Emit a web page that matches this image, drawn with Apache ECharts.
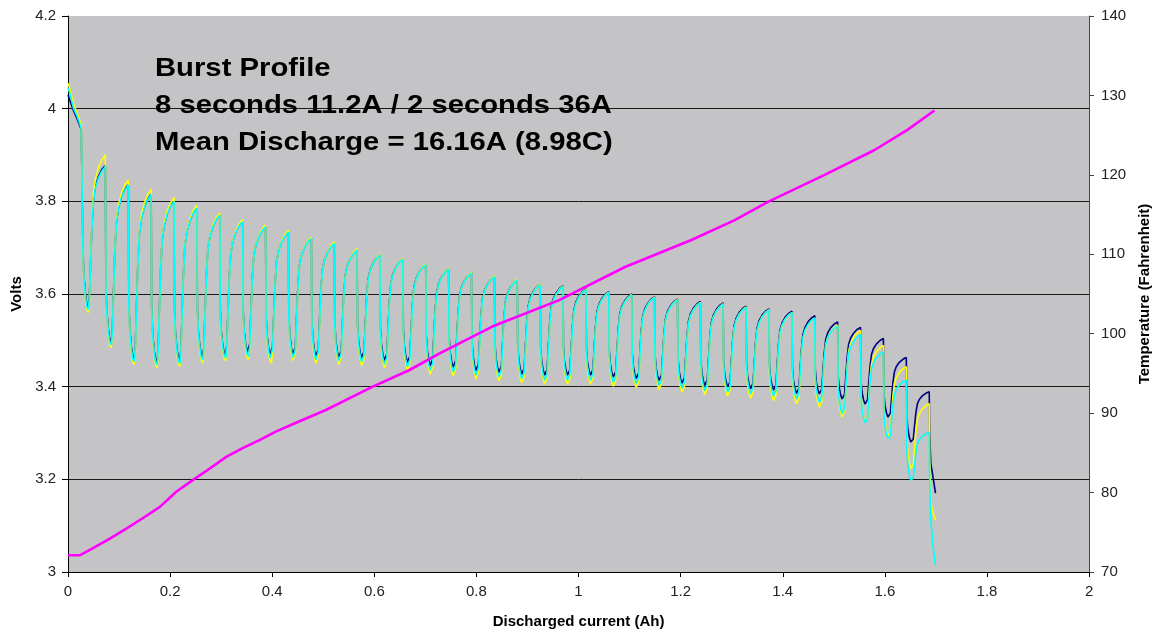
<!DOCTYPE html>
<html>
<head>
<meta charset="utf-8">
<script src="https://cdn.jsdelivr.net/npm/echarts@6.0.0/dist/echarts.min.js"></script>
<style>
html,body{margin:0;padding:0;background:#fff;}
#chart{width:1160px;height:639px;}
</style>
</head>
<body>
<div id="chart"></div>
<script>
// ---- Data ----
// Axis ticks
const xTicks = { min: 0, max: 2, interval: 0.2 };
const voltTicks = { min: 3, max: 4.2, interval: 0.2 };
const tempTicks = { min: 70, max: 140, interval: 10 };

// Opening segment (before first burst), Ah and volts
const startX      = [0, 0.003, 0.011, 0.018, 0.026];
const startNavy   = [4.030, 4.020, 3.995, 3.978, 3.955];
const startYellow = [4.055, 4.045, 4.010, 3.990, 3.965];
const startCyan   = [4.045, 4.035, 4.000, 3.983, 3.958];

// Position (Ah) of each burst onset (sharp voltage drop)
const dropX = [0.0283,0.0732,0.1182,0.1629,0.2076,0.2525,0.2973,0.3422,0.3869,0.4316,
               0.4766,0.5215,0.5662,0.6109,0.6559,0.7006,0.7455,0.7902,0.8352,0.8799,
               0.9248,0.9695,1.0145,1.0592,1.1041,1.1488,1.1938,1.2385,1.2832,1.3281,
               1.3730,1.4180,1.4627,1.5074,1.5523,1.5971,1.6420,1.6869];

// Voltage just before each burst (top of each recovery)
const peakCyan   = [3.955,3.875,3.835,3.815,3.800,3.785,3.770,3.756,3.745,3.733,
                    3.720,3.709,3.695,3.684,3.675,3.663,3.653,3.645,3.637,3.630,
                    3.619,3.616,3.609,3.603,3.598,3.592,3.587,3.581,3.578,3.571,
                    3.565,3.560,3.548,3.531,3.512,3.475,3.414,3.301];
const peakNavy   = [3.955,3.878,3.836,3.816,3.801,3.786,3.771,3.757,3.746,3.734,
                    3.721,3.710,3.696,3.685,3.676,3.664,3.654,3.646,3.638,3.631,
                    3.621,3.618,3.611,3.605,3.600,3.594,3.589,3.584,3.581,3.574,
                    3.568,3.563,3.553,3.540,3.528,3.504,3.463,3.389];
const peakYellow = [3.962,3.900,3.846,3.826,3.808,3.791,3.775,3.760,3.749,3.737,
                    3.723,3.712,3.698,3.686,3.677,3.665,3.655,3.647,3.639,3.632,
                    3.621,3.617,3.610,3.604,3.599,3.593,3.588,3.582,3.579,3.572,
                    3.566,3.560,3.548,3.533,3.521,3.489,3.443,3.363];

// Lowest voltage during each burst
const troughCyan   = [3.566,3.490,3.454,3.447,3.450,3.458,3.462,3.465,3.458,3.459,
                      3.454,3.452,3.450,3.445,3.440,3.432,3.429,3.422,3.418,3.414,
                      3.411,3.411,3.411,3.407,3.404,3.400,3.394,3.389,3.386,3.382,
                      3.378,3.371,3.364,3.339,3.319,3.285,3.195];
const troughNavy   = [3.572,3.496,3.460,3.453,3.456,3.463,3.467,3.470,3.464,3.465,
                      3.461,3.459,3.458,3.453,3.449,3.442,3.439,3.432,3.428,3.424,
                      3.422,3.422,3.422,3.418,3.415,3.411,3.405,3.400,3.397,3.393,
                      3.390,3.383,3.382,3.371,3.360,3.332,3.278];
const troughYellow = [3.560,3.484,3.448,3.441,3.444,3.452,3.456,3.458,3.451,3.452,
                      3.446,3.444,3.442,3.437,3.432,3.423,3.420,3.413,3.409,3.405,
                      3.402,3.402,3.402,3.398,3.395,3.391,3.385,3.380,3.377,3.372,
                      3.367,3.360,3.353,3.332,3.320,3.290,3.220];

// Shape of one burst: offset (Ah) after onset, share of swing
const fallDx   = [0.0010, 0.0029, 0.0059, 0.0088, 0.0117];
const fallFrac = [0.32, 0.17, 0.07, 0.015, 0.0];
const riseDx   = [0.0137, 0.0160, 0.0186, 0.0215, 0.0254, 0.0313, 0.0381];
const riseFrac = [0.08, 0.32, 0.58, 0.76, 0.85, 0.92, 0.97];

// Final collapse after the last burst
const tailX      = [1.6878, 1.6900, 1.6950, 1.6992];
const tailNavy   = [3.300, 3.235, 3.200, 3.170];
const tailYellow = [3.250, 3.150, 3.125, 3.112];
const tailCyan   = [3.200, 3.110, 3.050, 3.015];

// Cell temperature (Fahrenheit)
const tempX = [0, 0.023, 0.049, 0.082, 0.115, 0.147, 0.180, 0.212, 0.245, 0.277,
               0.310, 0.342, 0.375, 0.408, 0.440, 0.505, 0.596, 0.668, 0.727, 0.831,
               0.961, 1.091, 1.221, 1.306, 1.371, 1.482, 1.579, 1.645, 1.697];
const tempF = [72.1, 72.1, 73.0, 74.2, 75.5, 76.8, 78.2, 80.1, 81.6, 83.0,
               84.5, 85.6, 86.6, 87.7, 88.6, 90.4, 93.3, 95.4, 97.5, 100.9,
               104.2, 108.4, 111.8, 114.3, 116.6, 120.0, 123.1, 125.7, 128.1];

// ---- Build point tables for the library ----
function buildVolt(start, peaks, troughs, tail) {
  const pts = [];
  for (let i = 0; i < startX.length; i++) pts.push([startX[i], start[i]]);
  for (let k = 0; k < dropX.length; k++) {
    pts.push([dropX[k], peaks[k]]);
    if (k < troughs.length) {
      const t = troughs[k];
      for (let j = 0; j < fallDx.length; j++)
        pts.push([dropX[k] + fallDx[j], t + fallFrac[j] * (peaks[k] - t)]);
      for (let j = 0; j < riseDx.length; j++)
        pts.push([dropX[k] + riseDx[j], t + riseFrac[j] * (peaks[k + 1] - t)]);
    }
  }
  for (let i = 0; i < tailX.length; i++) pts.push([tailX[i], tail[i]]);
  return pts;
}
const navyPts = buildVolt(startNavy, peakNavy, troughNavy, tailNavy);
const yellowPts = buildVolt(startYellow, peakYellow, troughYellow, tailYellow);
const cyanPts = buildVolt(startCyan, peakCyan, troughCyan, tailCyan);
const tempPts = tempX.map((x, i) => [x, tempF[i]]);

const FONT = '"Liberation Sans", Arial, sans-serif';
const chart = echarts.init(document.getElementById('chart'), null, { renderer: 'canvas' });
const titleLines = ['Burst Profile', '8 seconds 11.2A / 2 seconds 36A', 'Mean Discharge = 16.16A (8.98C)'];

chart.setOption({
  animation: false,
  backgroundColor: '#ffffff',
  grid: { left: 68, right: 66, top: 16, bottom: 67, show: true, backgroundColor: '#C4C3C6', borderWidth: 0 },
  xAxis: {
    type: 'value', min: xTicks.min, max: xTicks.max, interval: xTicks.interval,
    name: 'Discharged current (Ah)', nameLocation: 'middle', nameGap: 42,
    nameTextStyle: { fontFamily: FONT, fontWeight: 'bold', fontSize: 15, color: '#000' },
    axisLine: { show: true, onZero: false, lineStyle: { color: '#000', width: 1 } },
    axisTick: { show: true, length: 5, lineStyle: { color: '#000' } },
    axisLabel: { fontFamily: FONT, fontSize: 15, color: '#222', margin: 12 },
    splitLine: { show: false }
  },
  yAxis: [{
    type: 'value', min: voltTicks.min, max: voltTicks.max, interval: voltTicks.interval,
    name: 'Volts', nameLocation: 'middle', nameGap: 41, nameRotate: 90,
    nameTextStyle: { fontFamily: FONT, fontWeight: 'bold', fontSize: 15, color: '#000' },
    axisLine: { show: true, lineStyle: { color: '#000', width: 1 } },
    axisTick: { show: true, length: 6, lineStyle: { color: '#000' } },
    axisLabel: { fontFamily: FONT, fontSize: 15, color: '#222', margin: 12 },
    splitLine: { show: true, showMaxLine: false, showMinLine: false, lineStyle: { color: '#1a1a1a', width: 1 } }
  }, {
    type: 'value', position: 'right', min: tempTicks.min, max: tempTicks.max, interval: tempTicks.interval,
    name: 'Temperature (Fahrenheit)', nameLocation: 'middle', nameGap: 40, nameRotate: 90,
    nameTextStyle: { fontFamily: FONT, fontWeight: 'bold', fontSize: 15, color: '#000' },
    axisLine: { show: true, lineStyle: { color: '#444', width: 1 } },
    axisTick: { show: true, length: 5, lineStyle: { color: '#444' } },
    axisLabel: { fontFamily: FONT, fontSize: 15, color: '#222', margin: 12 },
    splitLine: { show: false }
  }],
  graphic: titleLines.map((t, i) => ({
    type: 'text', x: 155, y: 69.5 + i * 37, scaleX: 1.17, z: 1,
    style: { text: t, font: 'bold 25px ' + FONT, fill: '#000', align: 'left', verticalAlign: 'middle' }
  })),
  series: [
    { name: 'V1', type: 'line', data: navyPts, yAxisIndex: 0, showSymbol: false, symbol: 'none',
      lineStyle: { color: '#000080', width: 1.6 }, z: 2 },
    { name: 'V2', type: 'line', data: yellowPts, yAxisIndex: 0, showSymbol: false, symbol: 'none',
      lineStyle: { color: '#FFFF00', width: 1.6 }, z: 3 },
    { name: 'V3', type: 'line', data: cyanPts, yAxisIndex: 0, showSymbol: false, symbol: 'none',
      lineStyle: { color: '#00FFFF', width: 1.6 }, z: 4 },
    { name: 'Temp', type: 'line', data: tempPts, yAxisIndex: 1, showSymbol: false, symbol: 'none',
      lineStyle: { color: '#FF00FF', width: 2.6 }, z: 5 }
  ]
});
</script>
</body>
</html>
